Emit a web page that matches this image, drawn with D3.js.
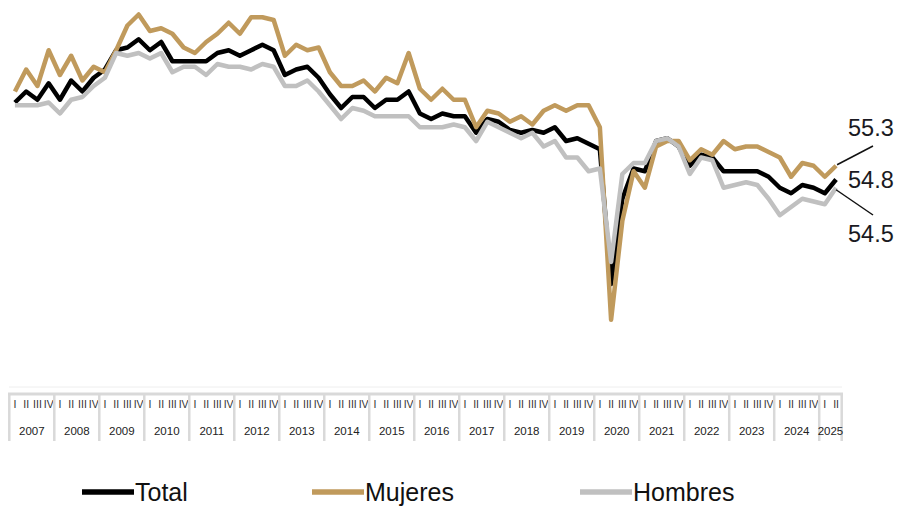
<!DOCTYPE html>
<html>
<head>
<meta charset="utf-8">
<script src="https://d3js.org/d3.v7.min.js"></script>
<style>
body { margin: 0; background: #fff; }
svg { display: block; font-family: "Liberation Sans", Arial, sans-serif; }
</style>
</head>
<body>
<div id="chart"></div>
<script>
// años y trimestres
var years = [2007, 2008, 2009, 2010, 2011, 2012, 2013, 2014, 2015, 2016,
             2017, 2018, 2019, 2020, 2021, 2022, 2023, 2024, 2025];
var quarterNames = ["I", "II", "III", "IV"];
var quartersInYear = [4, 4, 4, 4, 4, 4, 4, 4, 4, 4, 4, 4, 4, 4, 4, 4, 4, 4, 2];

var total = [57.6, 58.0, 57.7, 58.3, 57.7, 58.4, 58.0, 58.5,
             58.8, 59.5, 59.6, 59.9, 59.5, 59.8, 59.1, 59.1,
             59.1, 59.1, 59.4, 59.5, 59.3, 59.5, 59.7, 59.5,
             58.6, 58.8, 58.9, 58.5, 57.9, 57.4, 57.8, 57.8,
             57.4, 57.7, 57.7, 58.0, 57.2, 57.0, 57.2, 57.1,
             57.1, 56.5, 57.0, 56.9, 56.6, 56.5, 56.6, 56.5,
             56.7, 56.2, 56.3, 56.1, 55.9, 51.0, 54.1, 55.2,
             55.1, 56.2, 56.3, 56.0, 55.3, 55.7, 55.6, 55.1,
             55.1, 55.1, 55.1, 54.9, 54.5, 54.3, 54.6, 54.5,
             54.3, 54.8];

var mujeres = [58.0, 58.8, 58.2, 59.5, 58.6, 59.3, 58.4, 58.9,
               58.7, 59.5, 60.4, 60.8, 60.2, 60.3, 60.1, 59.6,
               59.4, 59.8, 60.1, 60.5, 60.1, 60.7, 60.7, 60.6,
               59.3, 59.7, 59.5, 59.6, 58.7, 58.2, 58.2, 58.4,
               58.0, 58.5, 58.3, 59.4, 58.1, 57.7, 58.1, 57.7,
               57.7, 56.7, 57.3, 57.2, 56.9, 57.1, 56.8, 57.3,
               57.5, 57.3, 57.5, 57.5, 56.7, 49.7, 53.3, 55.1,
               54.5, 56.0, 56.2, 56.2, 55.5, 55.9, 55.7, 56.2,
               55.9, 56.0, 56.0, 55.8, 55.6, 54.9, 55.4, 55.3,
               54.9, 55.3];

var hombres = [57.5, 57.5, 57.5, 57.6, 57.2, 57.7, 57.8, 58.2,
               58.5, 59.4, 59.3, 59.4, 59.2, 59.4, 58.7, 58.9,
               58.9, 58.6, 59.0, 58.9, 58.9, 58.8, 59.0, 58.9,
               58.2, 58.2, 58.4, 58.0, 57.5, 57.0, 57.4, 57.3,
               57.1, 57.1, 57.1, 57.1, 56.7, 56.7, 56.7, 56.8,
               56.7, 56.2, 56.9, 56.7, 56.5, 56.3, 56.5, 56.0,
               56.2, 55.6, 55.6, 55.1, 55.2, 51.8, 55.0, 55.4,
               55.4, 56.2, 56.3, 56.0, 55.0, 55.6, 55.5, 54.5,
               54.6, 54.7, 54.6, 54.1, 53.5, 53.8, 54.1, 54.0,
               53.9, 54.5];

var seriesNames = ["Total", "Mujeres", "Hombres"];
var seriesColors = ["#000000", "#c09a5c", "#c0c0c0"];

var svg = d3.select("#chart").append("svg")
    .attr("width", 898)
    .attr("height", 506);

// periodos trimestrales
var periods = [];
years.forEach(function(yr, i) {
    for (var q = 0; q < quartersInYear[i]; q++) {
        periods.push({id: yr + "-" + q, year: yr, q: q});
    }
});

var x = d3.scaleBand()
    .domain(periods.map(function(p) { return p.id; }))
    .range([9.3, 841.7]);

var y = d3.scaleLinear()
    .domain([49, 61])
    .range([339, 9]);

// eje de categorias
var axisTop = 394;
svg.append("line")
    .attr("x1", 9).attr("x2", 842)
    .attr("y1", 387).attr("y2", 387)
    .attr("stroke", "#eeeeee").attr("stroke-width", 1);

var xAxis = svg.append("g")
    .attr("class", "x-axis")
    .attr("transform", "translate(0," + axisTop + ")")
    .call(d3.axisBottom(x)
        .tickSize(0)
        .tickPadding(7)
        .tickFormat(function(d) { return quarterNames[+d.split("-")[1]]; }));
xAxis.select(".domain").remove();
xAxis.selectAll("text")
    .attr("font-size", 10.5)
    .attr("font-family", "Liberation Sans, Arial, sans-serif")
    .attr("fill", "#333");

svg.append("line")
    .attr("x1", 8).attr("x2", 843)
    .attr("y1", axisTop).attr("y2", axisTop)
    .attr("stroke", "#d9d9d9").attr("stroke-width", 3);

var yearPos = years.map(function(yr, i) {
    var first = x(yr + "-0");
    var last = x(yr + "-" + (quartersInYear[i] - 1)) + x.bandwidth();
    return {year: yr, x0: first, x1: last};
});

svg.selectAll(".sep")
    .data(yearPos.map(function(d) { return d.x0; }).concat([yearPos[yearPos.length - 1].x1]))
    .enter().append("line")
    .attr("class", "sep")
    .attr("x1", function(d) { return d; })
    .attr("x2", function(d) { return d; })
    .attr("y1", axisTop).attr("y2", 441)
    .attr("stroke", "#d9d9d9").attr("stroke-width", 2.5);

svg.selectAll(".yearLabel")
    .data(yearPos)
    .enter().append("text")
    .attr("class", "yearLabel")
    .attr("x", function(d) { return (d.x0 + d.x1) / 2; })
    .attr("y", 435)
    .attr("text-anchor", "middle")
    .attr("font-size", 11.5)
    .attr("fill", "#222")
    .text(function(d) { return d.year; });

// lineas
var line = d3.line()
    .x(function(d, i) { return x(periods[i].id) + x.bandwidth() / 2; })
    .y(function(d) { return y(d); });

var allSeries = [total, mujeres, hombres];
svg.selectAll(".serie")
    .data(allSeries)
    .enter().append("path")
    .attr("class", "serie")
    .attr("fill", "none")
    .attr("stroke", function(d, i) { return seriesColors[i]; })
    .attr("stroke-width", 4.5)
    .attr("stroke-linejoin", "round")
    .attr("d", line);

// etiquetas finales
var lastX = x(periods[periods.length - 1].id) + x.bandwidth() / 2;
var lastIdx = total.length - 1;

svg.append("line")
    .attr("x1", lastX + 1).attr("y1", y(mujeres[lastIdx]) - 1)
    .attr("x2", 873).attr("y2", 146)
    .attr("stroke", "#111").attr("stroke-width", 1.5);
svg.append("line")
    .attr("x1", lastX).attr("y1", y(hombres[lastIdx]) + 2)
    .attr("x2", 873).attr("y2", 215)
    .attr("stroke", "#111").attr("stroke-width", 1.5);

var endLabels = [
    {v: mujeres[lastIdx], y: 136},
    {v: total[lastIdx], y: 188},
    {v: hombres[lastIdx], y: 242}
];
svg.selectAll(".endLabel")
    .data(endLabels)
    .enter().append("text")
    .attr("class", "endLabel")
    .attr("x", 848)
    .attr("y", function(d) { return d.y; })
    .attr("font-size", 23.5)
    .attr("fill", "#1a1a22")
    .text(function(d) { return d3.format(".1f")(d.v); });

// leyenda
var legendX = [82, 312, 580];
var legend = svg.selectAll(".legend")
    .data(seriesNames)
    .enter().append("g")
    .attr("class", "legend")
    .attr("transform", function(d, i) { return "translate(" + legendX[i] + ",492)"; });
legend.append("line")
    .attr("x1", 0).attr("x2", 52)
    .attr("y1", 0).attr("y2", 0)
    .attr("stroke", function(d, i) { return seriesColors[i]; })
    .attr("stroke-width", 5.5);
legend.append("text")
    .attr("x", 53)
    .attr("y", 9)
    .attr("font-size", 25)
    .attr("fill", "#111")
    .text(function(d) { return d; });
</script>
</body>
</html>
